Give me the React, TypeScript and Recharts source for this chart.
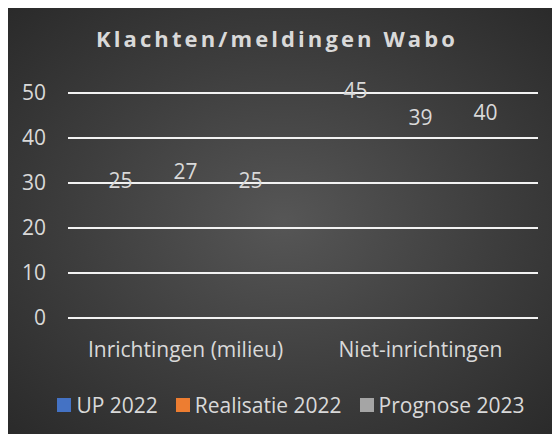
import React from "react";
import { BarChart, Bar, XAxis, YAxis, CartesianGrid, LabelList, Legend } from "recharts";

const categories = ["Inrichtingen (milieu)", "Niet-inrichtingen"];
const up2022 = [25, 45];
const realisatie2022 = [27, 39];
const prognose2023 = [25, 40];
const seriesNames = ["UP 2022", "Realisatie 2022", "Prognose 2023"];
const seriesColors = ["#4472c4", "#ed7d31", "#a5a5a5"];
const yTicks = [0, 10, 20, 30, 40, 50];

const data = categories.map((c, i) => ({
  name: c,
  s0: up2022[i],
  s1: realisatie2022[i],
  s2: prognose2023[i],
}));

const FONT = "'Open Sans', sans-serif";
const TXT = "#d9d9d9";
const FS = 21;

const LegendContent = () => (
  <div style={{ display: "flex", justifyContent: "center", alignItems: "center", fontFamily: FONT, fontSize: FS, color: TXT, lineHeight: "26px", paddingLeft: 14 }}>
    {seriesNames.map((n, i) => (
      <span key={n} style={{ display: "inline-flex", alignItems: "center", marginRight: i < 2 ? 18 : 0 }}>
        <span style={{ width: 14, height: 14, background: seriesColors[i], display: "inline-block", marginRight: 5 }} />
        {n}
      </span>
    ))}
  </div>
);

export default function App() {
  return (
    <div
      style={{
        position: "relative",
        width: 552,
        height: 426,
        background: "radial-gradient(ellipse at 50% 50%, #565656 0%, #3d3d3d 55%, #2a2a2a 100%)",
        overflow: "hidden",
      }}
    >
      <div
        style={{
          position: "absolute",
          top: 15,
          left: -7,
          width: 552,
          textAlign: "center",
          fontFamily: FONT,
          fontSize: 22,
          fontWeight: 700,
          letterSpacing: 3.1,
          color: TXT,
        }}
      >
        Klachten/meldingen Wabo
      </div>
      <BarChart
        width={552}
        height={426}
        data={data}
        margin={{ top: 85, right: 22, left: 0, bottom: 40 }}
        barCategoryGap={20}
        barGap={0}
      >
        <CartesianGrid horizontal vertical={false} stroke="#f2f2f2" strokeWidth={2} />
        <XAxis
          dataKey="name"
          axisLine={false}
          tickLine={false}
          tick={{ fill: TXT, fontSize: FS, fontFamily: FONT }}
          tickMargin={18}
          height={50}
        />
        <YAxis
          domain={[0, 50]}
          ticks={yTicks}
          axisLine={false}
          tickLine={false}
          tick={{ fill: TXT, fontSize: FS, fontFamily: FONT }}
          tickMargin={16}
          width={60}
        />
        <Legend
          content={<LegendContent />}
          wrapperStyle={{ position: "absolute", top: 384, left: 0, width: 552, height: 26 }}
        />
        {["s0", "s1", "s2"].map((k, i) => (
          <Bar key={k} dataKey={k} name={seriesNames[i]} fill={seriesColors[i]} fillOpacity={0} isAnimationActive={false}>
            <LabelList dataKey={k} position="top" offset={18} fill={TXT} fontSize={FS} fontFamily={FONT} />
          </Bar>
        ))}
      </BarChart>
    </div>
  );
}
